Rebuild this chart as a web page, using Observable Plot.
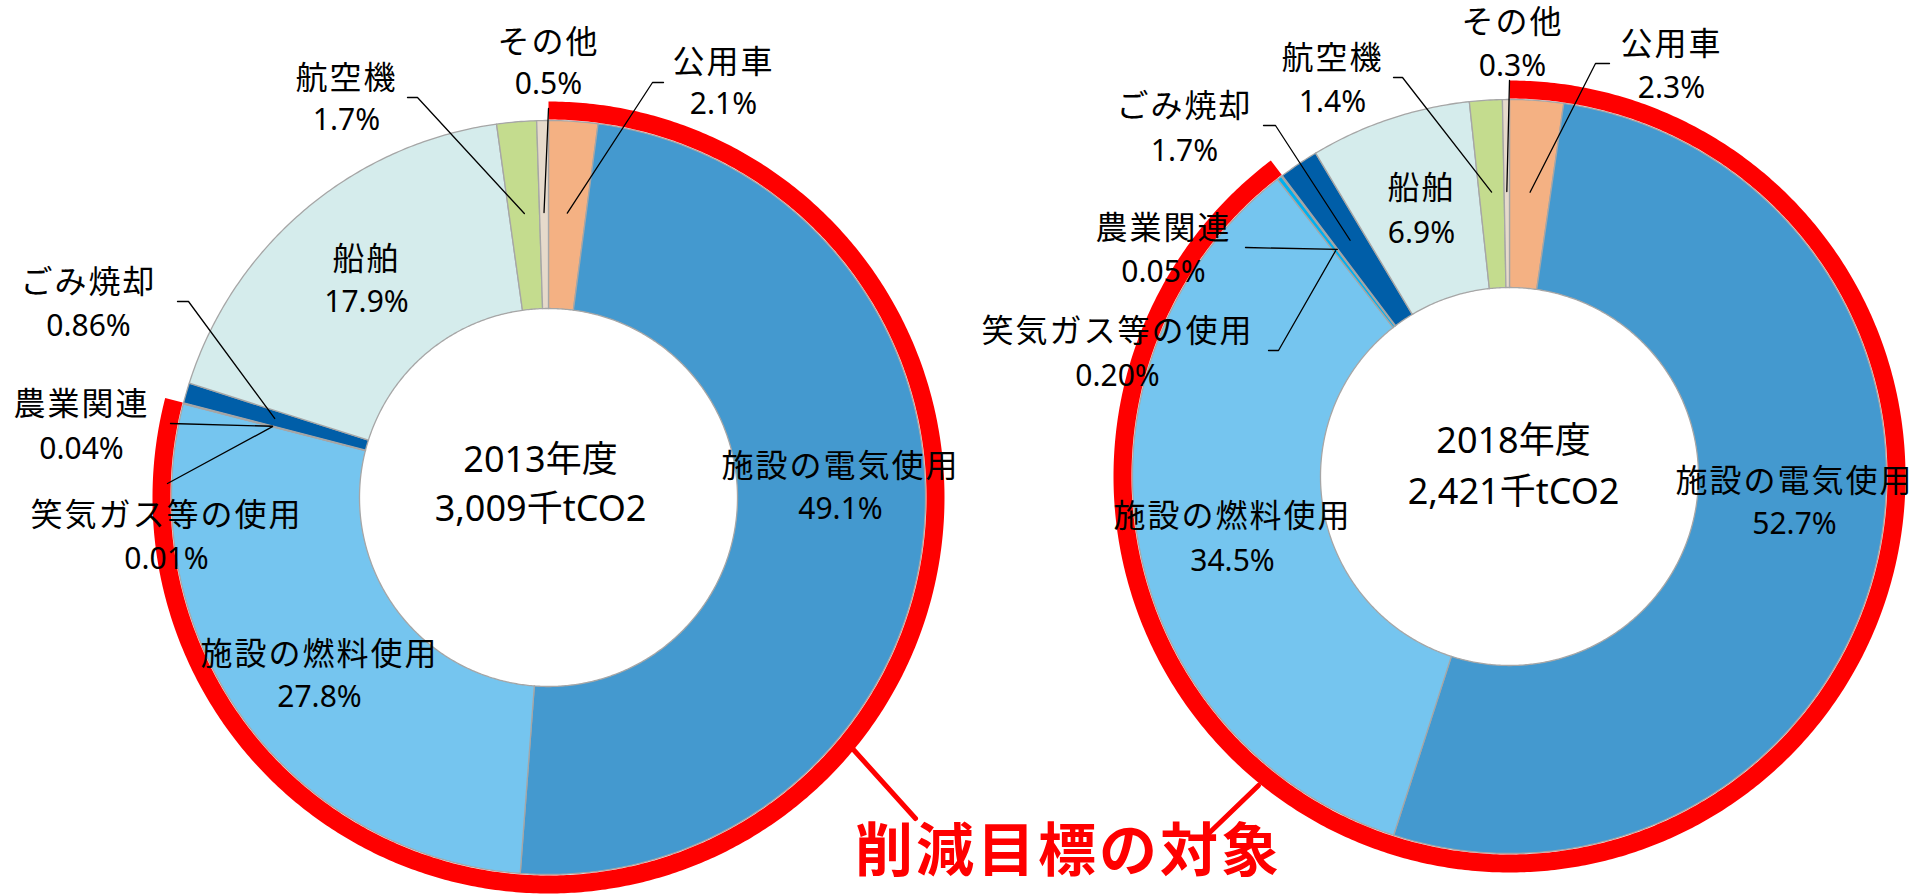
<!DOCTYPE html>
<html><head><meta charset="utf-8">
<script src="https://cdn.jsdelivr.net/npm/d3@7"></script>
<script src="https://cdn.jsdelivr.net/npm/@observablehq/plot@0.6"></script>
<style>html,body{margin:0;padding:0;background:#fff}svg{display:block}</style>
</head><body><div id="chart"></div>
<script>
// ---------- data ----------
const categories = ["公用車","施設の電気使用","施設の燃料使用","笑気ガス等の使用","農業関連","ごみ焼却","船舶","航空機","その他"];
const values2013 = [2.1, 49.1, 27.8, 0.01, 0.04, 0.86, 17.9, 1.7, 0.5];
const values2018 = [2.3, 52.7, 34.5, 0.20, 0.05, 1.7, 6.9, 1.4, 0.3];
const valueLabels2013 = ["2.1%","49.1%","27.8%","0.01%","0.04%","0.86%","17.9%","1.7%","0.5%"];
const valueLabels2018 = ["2.3%","52.7%","34.5%","0.20%","0.05%","1.7%","6.9%","1.4%","0.3%"];
const reductionTarget = [true, true, true, true, true, false, false, false, false];
const years = ["2013年度", "2018年度"];
const totals = ["3,009千tCO2", "2,421千tCO2"];
const targetLabel = "削減目標の対象";

// ---------- styles / layout ----------
const sliceColors = ["#F4B183","#4499CF","#75C5EF","#00B0F0","#BFBFBF","#005EA8","#D5ECEC","#C4DC8E","#E6DACB"];
const W = 1927, H = 894;
const R_OUT = 377, R_IN = 189, RED_IN = 378, RED_OUT = 396, R_MID = 285;
const donutLayout = [
  {cx: 548, cy: 497, titleX: 540, titleY: [460, 509]},
  {cx: 1509, cy: 476, titleX: 1513, titleY: [441, 492]}
];
// label placement per donut per category: [x, y of name line, y of value line]
const labelLayout = [
  [[723,62,104],[840,466,509],[319,654,697],[166,515,559],[81,404,449],[88,282,326],[366,259,302],[346,78,120],[548,42,84]],
  [[1671,44,88],[1794,481,524],[1232,516,561],[1117,331,376],[1163,228,272],[1184,106,151],[1421,188,233],[1332,58,102],[1512,22,66]]
];
// leader line label-side points (category index -> points)
const leaderLayout = [
  {0: [[663,82],[652,82]], 3: [[167,483]], 4: [[170,423]], 5: [[177,301],[188,301]], 7: [[407,97],[417,97]], 8: [[548,108]]},
  {0: [[1609,63],[1595,63]], 3: [[1268,350],[1278,350]], 4: [[1245,247]], 5: [[1263,125],[1275,125]], 7: [[1393,77],[1402,77]], 8: [[1509,80]]}
];
const targetLayout = {x: 1068, y: 852, lines: [[[851,747],[915,818]], [[1258,785],[1204,837]]]};

// ---------- geometry from data ----------
const series = [values2013, values2018];
const valueLabels = [valueLabels2013, valueLabels2018];
const pie = d3.pie().sort(null).value(v => v).startAngle(0).endAngle(2 * Math.PI);

function ring(cx, cy, r0, r1, a0, a1, id, extra) {
  const n = Math.max(2, Math.ceil((a1 - a0) / (Math.PI / 360)));
  const pts = [];
  for (let i = 0; i <= n; i++) { const a = a0 + (a1 - a0) * i / n; pts.push({id, x: cx + r1 * Math.sin(a), y: cy - r1 * Math.cos(a), ...extra}); }
  for (let i = n; i >= 0; i--) { const a = a0 + (a1 - a0) * i / n; pts.push({id, x: cx + r0 * Math.sin(a), y: cy - r0 * Math.cos(a), ...extra}); }
  return pts;
}

const slicePts = [], redPts = [], leaderPts = [], nameText = [], valueText = [], centerText = [];
series.forEach((vals, k) => {
  const {cx, cy} = donutLayout[k];
  const arcs = pie(vals);
  arcs.forEach((a, i) => {
    slicePts.push(...ring(cx, cy, R_IN, R_OUT, a.startAngle, a.endAngle, `s${k}-${i}`, {color: sliceColors[i]}));
    const [lx, ly1, ly2] = labelLayout[k][i];
    nameText.push({x: lx, y: ly1, text: categories[i]});
    valueText.push({x: lx, y: ly2, text: valueLabels[k][i]});
    const lead = leaderLayout[k][i];
    if (lead) {
      const m = (a.startAngle + a.endAngle) / 2;
      const pts = [...lead, [cx + R_MID * Math.sin(m), cy - R_MID * Math.cos(m)]];
      pts.forEach(([x, y]) => leaderPts.push({id: `l${k}-${i}`, x, y}));
    }
  });
  // red arc over the reduction-target categories
  const tArcs = arcs.filter((a, i) => reductionTarget[i]);
  const a0 = d3.min(tArcs, a => a.startAngle), a1 = d3.max(tArcs, a => a.endAngle);
  redPts.push(...ring(cx, cy, RED_IN, RED_OUT, a0, a1, `r${k}`, {}));
  const d = donutLayout[k];
  centerText.push({x: d.titleX, y: d.titleY[0], text: years[k]});
  centerText.push({x: d.titleX, y: d.titleY[1], text: totals[k]});
});
const redLeaderPts = [];
targetLayout.lines.forEach((ln, j) => ln.forEach(([x, y]) => redLeaderPts.push({id: j, x, y})));

const font = '"Noto Sans", "Noto Sans CJK JP", sans-serif';
const chart = Plot.plot({
  width: W, height: H, margin: 0,
  style: {fontFamily: font, background: "#fff"},
  x: {type: "linear", domain: [0, W], range: [0, W], axis: null},
  y: {type: "linear", domain: [0, H], range: [0, H], axis: null},
  color: {type: "identity"},
  marks: [
    Plot.line(slicePts, {x: "x", y: "y", z: "id", fill: "color", stroke: "#A6A6A6", strokeWidth: 1.3, curve: "linear-closed"}),
    Plot.line(redPts, {x: "x", y: "y", z: "id", fill: "#FF0000", stroke: "none", curve: "linear-closed"}),
    Plot.line(leaderPts, {x: "x", y: "y", z: "id", stroke: "#000", strokeWidth: 1.3}),
    Plot.line(redLeaderPts, {x: "x", y: "y", z: "id", stroke: "#FF0000", strokeWidth: 5}),
    Plot.text(nameText, {x: "x", y: "y", text: "text", fontSize: 32, fill: "#000", fontFamily: font}),
    Plot.text(valueText, {x: "x", y: "y", text: "text", fontSize: 30, fill: "#000", fontFamily: font}),
    Plot.text(centerText, {x: "x", y: "y", text: "text", fontSize: 36, fill: "#000", fontFamily: font}),
    Plot.text([targetLabel], {x: () => targetLayout.x, y: () => targetLayout.y, text: d => d, fontSize: 58, fontWeight: 700, fill: "#FF0000", fontFamily: font})
  ]
});
// wider Japanese glyph spacing, as in the reference
d3.select(chart).selectAll("g[font-size='32'] text").style("letter-spacing", "2px");
d3.select(chart).selectAll("g[font-size='58'] text").style("letter-spacing", "3px");
document.getElementById("chart").appendChild(chart);
</script>
</body></html>
